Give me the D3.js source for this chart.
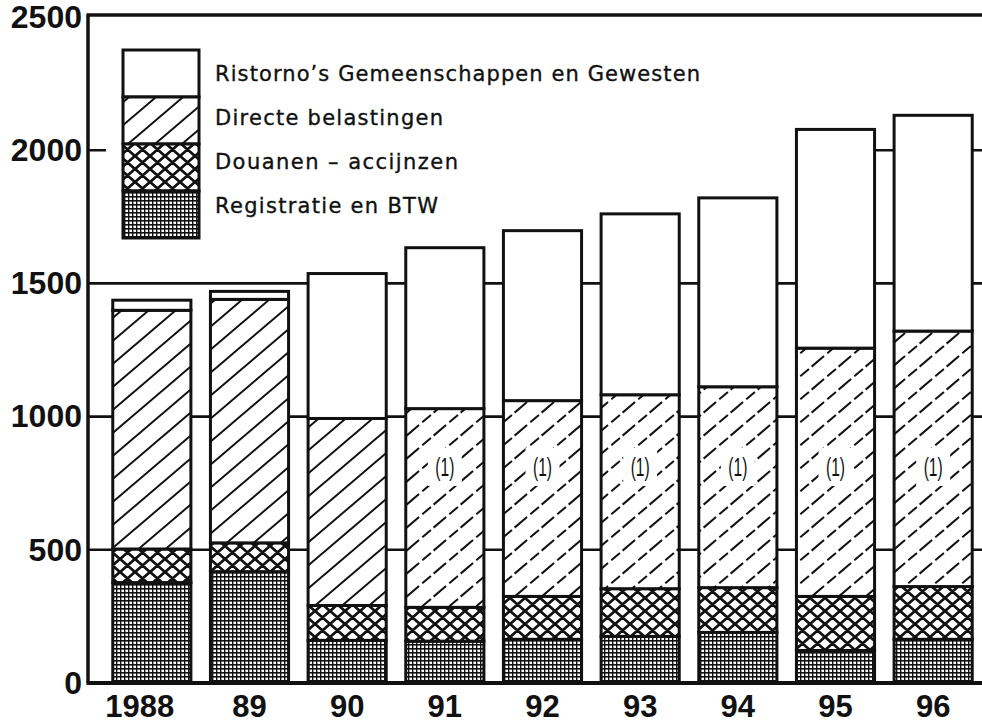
<html>
<head>
<meta charset="utf-8">
<script src="https://cdn.jsdelivr.net/npm/d3@7"></script>
<style>
  body { margin: 0; background: #fff; }
  text { font-family: "Liberation Sans", Arial, sans-serif; fill: #111; }
</style>
</head>
<body>
<div id="chart"></div>
<script>
// years on the x axis
const years = ["1988", "89", "90", "91", "92", "93", "94", "95", "96"];

// series values (per segment, bottom to top)
const registratie = [377, 418, 160, 157, 164, 175, 190, 122, 164];
const douanen     = [126, 108, 131, 127, 161, 179, 168, 203, 198];
const directe     = [896, 914, 702, 746, 735, 728, 754, 932, 959];
const ristorno    = [38, 30, 544, 604, 638, 679, 709, 821, 810];

const yTicks = [0, 500, 1000, 1500, 2000, 2500];
const gridValues = [500, 1000, 1500, 2000];
// bars with the footnote "(1)" in the directe part
const noteYears = ["91", "92", "93", "94", "95", "96"];

const seriesKeys = ["registratie", "douanen", "directe", "ristorno"];
const legendNames = [
  "Ristorno\u2019s Gemeenschappen en Gewesten",
  "Directe belastingen",
  "Douanen \u2013 accijnzen",
  "Registratie en BTW"
];
const legendKeys = ["ristorno", "directe", "douanen", "registratie"];

const width = 982, height = 725;
const plotLeft = 88, plotTop = 15, plotBottom = 683;

const svg = d3.select("#chart").append("svg")
  .attr("width", width)
  .attr("height", height);

// patterns
const defs = svg.append("defs");

const hw = 27, hh = 23;
function hatch(id, dashed) {
  const p = defs.append("pattern").attr("id", id)
    .attr("patternUnits", "userSpaceOnUse")
    .attr("width", hw).attr("height", hh);
  p.append("rect").attr("width", hw).attr("height", hh).attr("fill", "#fff");
  let d;
  if (!dashed) {
    d = `M${-hw},${hh} L${hw},${-hh} M0,${hh} L${hw},0 M0,${2 * hh} L${2 * hw},0`;
  } else {
    // broken lines
    const pt = t => [t * hw, hh - t * hh];
    const seg = (a, b) => `M${pt(a)[0]},${pt(a)[1]} L${pt(b)[0]},${pt(b)[1]}`;
    d = seg(0.06, 0.52) + " " + seg(0.64, 0.96);
  }
  p.append("path").attr("d", d)
    .attr("stroke", "#111").attr("stroke-width", 2).attr("fill", "none");
}
hatch("hatch", false);
hatch("hatchDash", true);

const cw = 15, ch = 13;
const cross = defs.append("pattern").attr("id", "cross")
  .attr("patternUnits", "userSpaceOnUse")
  .attr("width", cw).attr("height", ch);
cross.append("rect").attr("width", cw).attr("height", ch).attr("fill", "#fff");
cross.append("path")
  .attr("d", [-1, 0, 1].map(k =>
      `M${-cw},${-ch + k * ch} L${2 * cw},${2 * ch + k * ch} M${2 * cw},${-ch + k * ch} L${-cw},${2 * ch + k * ch}`
    ).join(" "))
  .attr("stroke", "#111").attr("stroke-width", 2.8).attr("fill", "none");

const grid = defs.append("pattern").attr("id", "dots")
  .attr("patternUnits", "userSpaceOnUse")
  .attr("width", 4).attr("height", 4);
grid.append("rect").attr("width", 4).attr("height", 4).attr("fill", "#fff");
grid.append("rect").attr("width", 4).attr("height", 1.6).attr("fill", "#111");
grid.append("rect").attr("width", 1.4).attr("height", 4).attr("fill", "#111");

const fills = {
  registratie: () => "url(#dots)",
  douanen: () => "url(#cross)",
  directe: yr => noteYears.includes(yr) ? "url(#hatchDash)" : "url(#hatch)",
  ristorno: () => "#fff"
};

// scales
const x = d3.scaleBand().domain(years).range([103, 982])
  .paddingInner(0.2).paddingOuter(0.1);
const y = d3.scaleLinear().domain([0, 2500]).range([plotBottom, 17]);

// gridlines
svg.append("g").selectAll("line")
  .data(gridValues).enter()
  .append("line")
  .attr("x1", plotLeft).attr("x2", width)
  .attr("y1", d => y(d)).attr("y2", d => y(d))
  .attr("stroke", "#111").attr("stroke-width", 2.6);

// legend background hides the 2000 line behind it
svg.append("rect")
  .attr("x", 106).attr("y", 38).attr("width", 690).attr("height", 208)
  .attr("fill", "#fff");

// stacked bars
const table = years.map((yr, i) => ({
  year: yr,
  registratie: registratie[i],
  douanen: douanen[i],
  directe: directe[i],
  ristorno: ristorno[i]
}));
const stack = d3.stack().keys(seriesKeys)(table);

svg.append("g").selectAll("g")
  .data(stack).enter()
  .append("g")
  .selectAll("rect")
  .data(layer => layer.map(d => ({ key: layer.key, d: d })))
  .enter()
  .append("rect")
  .attr("x", s => x(s.d.data.year))
  .attr("width", x.bandwidth())
  .attr("y", s => y(s.d[1]))
  .attr("height", s => y(s.d[0]) - y(s.d[1]))
  .attr("fill", s => fills[s.key](s.d.data.year))
  .attr("stroke", "#111")
  .attr("stroke-width", 3);

// footnote marks
const noteY = 467;
const notes = svg.append("g").selectAll("g")
  .data(noteYears).enter()
  .append("g")
  .attr("transform", d => `translate(${x(d) + x.bandwidth() / 2},${noteY})`);
notes.append("rect")
  .attr("x", -17).attr("y", -19).attr("width", 34).attr("height", 38)
  .attr("fill", "#fff");
notes.append("text")
  .attr("text-anchor", "middle")
  .attr("dy", "0.36em")
  .attr("font-size", 25)
  .attr("textLength", 19)
  .attr("lengthAdjust", "spacingAndGlyphs")
  .text("(1)");

// frame
const frame = svg.append("g").attr("stroke", "#111").attr("fill", "none");
frame.append("line").attr("x1", plotLeft - 1.5).attr("x2", width).attr("y1", plotTop).attr("y2", plotTop)
  .attr("stroke-width", 3.5);
frame.append("line").attr("x1", plotLeft).attr("x2", plotLeft).attr("y1", plotTop).attr("y2", plotBottom)
  .attr("stroke-width", 3.5);
frame.append("line").attr("x1", plotLeft - 1.5).attr("x2", width).attr("y1", plotBottom).attr("y2", plotBottom)
  .attr("stroke-width", 4);

// axes
const yAxis = svg.append("g")
  .attr("transform", `translate(${plotLeft},0)`)
  .call(d3.axisLeft(y).tickValues(yTicks).tickFormat(d3.format("d")).tickSize(0).tickPadding(6));
yAxis.select(".domain").remove();
yAxis.selectAll("text")
  .attr("font-size", 32).attr("font-weight", "bold")
  .style("font-family", "'Liberation Sans', Arial, sans-serif")
  .attr("fill", "#111");

const xAxis = svg.append("g")
  .attr("transform", `translate(0,${plotBottom})`)
  .call(d3.axisBottom(x).tickSize(0).tickPadding(12));
xAxis.select(".domain").remove();
xAxis.selectAll("text")
  .attr("font-size", 31).attr("font-weight", "bold")
  .style("font-family", "'Liberation Sans', Arial, sans-serif")
  .attr("fill", "#111")
  // the full year label sits a little left of its bar
  .attr("dx", (d, i) => i === 0 ? -12 : 0);

// legend
const legend = svg.append("g");
const lx = 123, ly = 50, lw = 76, lh = 47;
legend.selectAll("rect")
  .data(legendKeys).enter()
  .append("rect")
  .attr("x", lx).attr("y", (d, i) => ly + i * lh)
  .attr("width", lw).attr("height", lh)
  .attr("fill", d => fills[d]("1988"))
  .attr("stroke", "#111").attr("stroke-width", 3);

const legendWidths = [485, 228, 243, 223];
legend.selectAll("text")
  .data(legendNames).enter()
  .append("text")
  .attr("x", 215)
  .attr("y", (d, i) => 81 + i * 44)
  .attr("font-size", 21)
  .style("font-family", "'DejaVu Sans', sans-serif")
  .attr("stroke", "#111").attr("stroke-width", 0.35)
  .attr("textLength", (d, i) => legendWidths[i])
  .attr("lengthAdjust", "spacing")
  .text(d => d);
</script>
</body>
</html>
